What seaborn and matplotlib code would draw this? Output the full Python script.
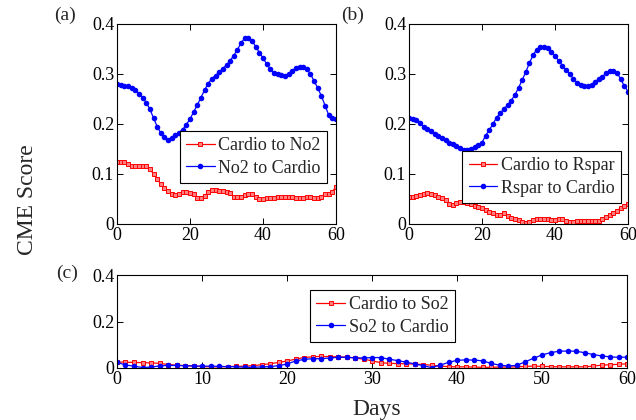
import numpy as np
import pandas as pd
import matplotlib
matplotlib.use("Agg")
import matplotlib.pyplot as plt
import seaborn as sns

days = list(range(61))

# panel (a)
cardio_to_no2 = [0.125, 0.125, 0.125, 0.120, 0.116, 0.116, 0.116, 0.117, 0.117, 0.110,
                 0.100, 0.090, 0.080, 0.073, 0.066, 0.060, 0.058, 0.060, 0.064, 0.064,
                 0.063, 0.060, 0.052, 0.052, 0.056, 0.064, 0.068, 0.068, 0.066, 0.066,
                 0.065, 0.062, 0.055, 0.055, 0.055, 0.058, 0.060, 0.060, 0.055, 0.050,
                 0.050, 0.052, 0.052, 0.052, 0.054, 0.054, 0.055, 0.055, 0.054, 0.052,
                 0.052, 0.052, 0.055, 0.055, 0.052, 0.052, 0.055, 0.060, 0.060, 0.065,
                 0.074]
no2_to_cardio = [0.280, 0.279, 0.277, 0.276, 0.273, 0.268, 0.261, 0.253, 0.243, 0.230,
                 0.212, 0.195, 0.182, 0.174, 0.169, 0.172, 0.178, 0.183, 0.189, 0.199,
                 0.210, 0.224, 0.238, 0.253, 0.268, 0.281, 0.291, 0.297, 0.304, 0.311,
                 0.318, 0.327, 0.337, 0.349, 0.362, 0.372, 0.372, 0.366, 0.355, 0.343,
                 0.332, 0.320, 0.310, 0.303, 0.300, 0.298, 0.296, 0.300, 0.307, 0.312,
                 0.315, 0.314, 0.310, 0.300, 0.286, 0.272, 0.256, 0.237, 0.218, 0.212,
                 0.210]

# panel (b)
cardio_to_rspar = [0.055, 0.055, 0.057, 0.058, 0.061, 0.063, 0.061, 0.058, 0.055, 0.053,
                   0.049, 0.041, 0.039, 0.042, 0.045, 0.044, 0.042, 0.040, 0.037, 0.035,
                   0.032, 0.029, 0.025, 0.022, 0.018, 0.019, 0.022, 0.017, 0.012, 0.010,
                   0.008, 0.004, 0.002, 0.004, 0.009, 0.011, 0.011, 0.010, 0.010, 0.009,
                   0.009, 0.010, 0.011, 0.007, 0.004, 0.005, 0.006, 0.006, 0.006, 0.006,
                   0.006, 0.007, 0.006, 0.010, 0.014, 0.018, 0.022, 0.027, 0.032, 0.037,
                   0.041]
rspar_to_cardio = [0.212, 0.211, 0.208, 0.203, 0.195, 0.190, 0.186, 0.181, 0.176, 0.172,
                   0.168, 0.163, 0.160, 0.157, 0.152, 0.149, 0.149, 0.151, 0.155, 0.159,
                   0.163, 0.177, 0.188, 0.200, 0.213, 0.222, 0.230, 0.238, 0.247, 0.258,
                   0.272, 0.288, 0.304, 0.322, 0.338, 0.349, 0.354, 0.355, 0.352, 0.345,
                   0.336, 0.327, 0.317, 0.308, 0.300, 0.291, 0.283, 0.279, 0.277, 0.276,
                   0.278, 0.285, 0.290, 0.295, 0.302, 0.306, 0.306, 0.302, 0.290, 0.276,
                   0.265]

# panel (c)
cardio_to_so2 = [0.026, 0.025, 0.024, 0.023, 0.022, 0.020, 0.015, 0.012, 0.010, 0.008,
                 0.006, 0.005, 0.005, 0.006, 0.007, 0.008, 0.010, 0.014, 0.018, 0.024,
                 0.030, 0.038, 0.045, 0.048, 0.050, 0.049, 0.048, 0.047, 0.043, 0.038,
                 0.031, 0.023, 0.020, 0.019, 0.018, 0.017, 0.015, 0.012, 0.008, 0.006,
                 0.005, 0.005, 0.004, 0.003, 0.003, 0.004, 0.004, 0.005, 0.007, 0.008,
                 0.007, 0.006, 0.005, 0.005, 0.005, 0.005, 0.008, 0.012, 0.014, 0.016,
                 0.018]
so2_to_cardio = [0.024, 0.013, 0.008, 0.002, 0.004, 0.009, 0.011, 0.011, 0.010, 0.009,
                 0.008, 0.008, 0.007, 0.006, 0.006, 0.003, 0.003, 0.005, 0.006, 0.010,
                 0.017, 0.030, 0.037, 0.040, 0.040, 0.043, 0.046, 0.046, 0.044, 0.043,
                 0.045, 0.045, 0.038, 0.032, 0.025, 0.018, 0.010, 0.002, 0.012, 0.024,
                 0.033, 0.035, 0.034, 0.031, 0.020, 0.012, 0.009, 0.011, 0.026, 0.042,
                 0.056, 0.066, 0.072, 0.073, 0.072, 0.066, 0.058, 0.052, 0.048, 0.046,
                 0.047]

sns.set_style("ticks")
plt.rcParams["font.family"] = ["Liberation Serif", "DejaVu Serif"]

fig = plt.figure(figsize=(6.36, 4.2), dpi=100)
ax_a = fig.add_axes([117 / 636, 1 - 224 / 420, 219 / 636, 200 / 420])
ax_b = fig.add_axes([409 / 636, 1 - 224 / 420, 219 / 636, 200 / 420])
ax_c = fig.add_axes([117 / 636, 1 - 368 / 420, 510 / 636, 93 / 420])


def draw(ax, red, blue, red_label, blue_label, loc, anchor, xticks, yticks):
    sns.lineplot(x=days, y=red, ax=ax, color="red", lw=0.9, marker="s", ms=3,
                 mfc="#ff8080", mec="red", mew=0.7, label=red_label)
    sns.lineplot(x=days, y=blue, ax=ax, color="blue", lw=0.9, marker="o", ms=4,
                 mfc="blue", mec="blue", mew=0, label=blue_label)
    ax.set_xlim(0, 60)
    ax.set_ylim(0, 0.4)
    ax.set_xticks(xticks)
    ax.set_yticks(yticks)
    ax.set_yticklabels(["0" if t == 0 else f"{t:.1f}" for t in yticks])
    ax.tick_params(direction="in", top=True, right=True, labelsize=13, length=4,
                   width=0.7, pad=2, colors="black")
    for s in ax.spines.values():
        s.set_linewidth(0.8)
        s.set_color("black")
    leg = ax.legend(loc=loc, bbox_to_anchor=anchor, fontsize=13, frameon=True,
                    fancybox=False, edgecolor="black", borderpad=0.35,
                    labelspacing=0.3, handlelength=1.6, handletextpad=0.2,
                    borderaxespad=0.0, framealpha=1)
    leg.get_frame().set_linewidth(0.8)


draw(ax_a, cardio_to_no2, no2_to_cardio, "Cardio to No2", "No2 to Cardio",
     "lower right", (0.959, 0.205), [0, 20, 40, 60], [0, 0.1, 0.2, 0.3, 0.4])
draw(ax_b, cardio_to_rspar, rspar_to_cardio, "Cardio to Rspar", "Rspar to Cardio",
     "lower right", (0.968, 0.105), [0, 20, 40, 60], [0, 0.1, 0.2, 0.3, 0.4])
draw(ax_c, cardio_to_so2, so2_to_cardio, "Cardio to So2", "So2 to Cardio",
     "upper center", (0.52, 0.84), [0, 10, 20, 30, 40, 50, 60], [0, 0.2, 0.4])

fig.text(65 / 636, 1 - 15 / 420, "(a)", fontsize=14, ha="center", va="center")
fig.text(353 / 636, 1 - 15 / 420, "(b)", fontsize=14, ha="center", va="center")
fig.text(67 / 636, 1 - 273 / 420, "(c)", fontsize=14, ha="center", va="center")
fig.text(28 / 636, 1 - 200 / 420, "CME Score", fontsize=17, rotation=90,
         ha="center", va="center")
fig.text(377 / 636, 1 - 415 / 420, "Days", fontsize=17, ha="center", va="baseline")

fig.savefig("out.png", dpi=100)
